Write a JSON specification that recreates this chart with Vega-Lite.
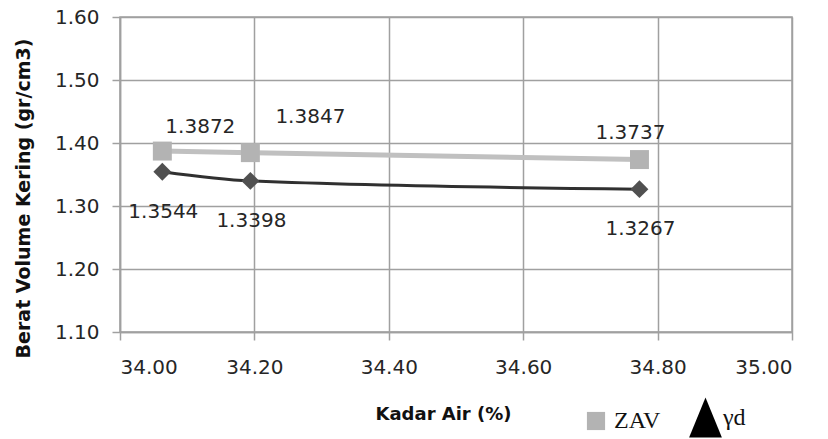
{
  "$schema": "https://vega.github.io/schema/vega-lite/v6.json",
  "autosize": "none",
  "width": 672,
  "height": 315,
  "padding": {"left": 120, "top": 17, "right": 36, "bottom": 107},
  "background": "white",
  "data": {
    "values": [
      {"kadar": 34.063, "berat": 1.3872, "seri": "ZAV", "label": "1.3872", "pos": "a"},
      {"kadar": 34.194, "berat": 1.3847, "seri": "ZAV", "label": "1.3847", "pos": "b"},
      {"kadar": 34.773, "berat": 1.3737, "seri": "ZAV", "label": "1.3737", "pos": "c"},
      {"kadar": 34.063, "berat": 1.3544, "seri": "γd", "label": "1.3544", "pos": "d"},
      {"kadar": 34.194, "berat": 1.3398, "seri": "γd", "label": "1.3398", "pos": "d"},
      {"kadar": 34.773, "berat": 1.3267, "seri": "γd", "label": "1.3267", "pos": "d"}
    ]
  },
  "config": {
    "view": {"stroke": "#a0a0a0", "strokeWidth": 1.5},
    "axis": {
      "labelFont": "DejaVu Sans",
      "labelFontSize": 20,
      "labelColor": "#262626",
      "titleFont": "DejaVu Sans",
      "titleFontSize": 19,
      "titleFontWeight": "bold",
      "titleColor": "#111111",
      "gridColor": "#a0a0a0",
      "gridWidth": 1.5,
      "gridOpacity": 1,
      "domainColor": "#a0a0a0",
      "domainWidth": 1.5,
      "tickColor": "#a0a0a0",
      "tickWidth": 1.5,
      "tickSize": 8
    },
    "legend": {
      "labelFont": "Liberation Serif",
      "labelFontSize": 24,
      "labelColor": "#111111",
      "padding": 0,
      "orient": "none"
    }
  },
  "encoding": {
    "x": {
      "field": "kadar",
      "type": "quantitative",
      "scale": {"domain": [34, 35], "nice": false, "zero": false},
      "axis": {
        "title": "Kadar Air (%)",
        "values": [34, 34.2, 34.4, 34.6, 34.8, 35],
        "format": ".2f",
        "labelPadding": 17,
        "titleX": 323,
        "titleY": 82,
        "titleFontSize": 18,
        "titleBaseline": "middle",
        "titleAnchor": null,
        "titleAlign": "center"
      }
    },
    "y": {
      "field": "berat",
      "type": "quantitative",
      "scale": {"domain": [1.1, 1.6], "nice": false, "zero": false},
      "axis": {
        "title": "Berat Volume Kering (gr/cm3)",
        "values": [1.1, 1.2, 1.3, 1.4, 1.5, 1.6],
        "format": ".2f",
        "labelPadding": 13,
        "titleX": -97,
        "titleY": 181,
        "titleAngle": -90,
        "titleBaseline": "middle",
        "titleAlign": "center",
        "titleAnchor": null
      }
    }
  },
  "layer": [
    {
      "transform": [{"filter": "datum.seri === 'ZAV'"}],
      "mark": {"type": "line", "interpolate": "monotone", "stroke": "#c0c0c0", "strokeWidth": 5},
      "encoding": {}
    },
    {
      "transform": [{"filter": "datum.seri === 'γd'"}],
      "mark": {"type": "line", "interpolate": "monotone", "stroke": "#303030", "strokeWidth": 3},
      "encoding": {}
    },
    {
      "transform": [{"filter": "datum.seri === 'ZAV'"}],
      "mark": {"type": "point", "filled": true, "opacity": 1, "fill": "#b3b3b3", "size": 360},
      "encoding": {
        "shape": {
          "field": "seri",
          "type": "nominal",
          "scale": {"domain": ["ZAV"], "range": ["square"]},
          "legend": {
            "title": null,
            "orient": "none",
            "legendX": 464,
            "legendY": 392,
            "padding": 0,
            "symbolType": "square",
            "symbolSize": 330,
            "symbolFillColor": "#c8c8c8",
            "symbolStrokeColor": "#b07a74",
            "symbolStrokeWidth": 1,
            "symbolOpacity": 1,
            "labelOffset": 6
          }
        }
      }
    },
    {
      "transform": [{"filter": "datum.seri === 'γd'"}],
      "mark": {"type": "point", "filled": true, "shape": "diamond", "size": 320},
      "encoding": {
        "fill": {"condition": {"test": "datum.seri === 'γd'", "value": "#505050"}, "value": "#000000"},
        "opacity": {
          "field": "seri",
          "type": "nominal",
          "scale": {"type": "ordinal", "domain": ["γd"], "range": [1]},
          "legend": {
            "title": null,
            "orient": "none",
            "legendX": 565,
            "legendY": 380,
            "padding": 0,
            "symbolType": "M-0.82,1L0,-1L0.82,1Z",
            "symbolSize": 1600,
            "symbolFillColor": "#000000",
            "symbolStrokeColor": "#000000",
            "symbolStrokeWidth": 1,
            "labelOffset": -3
          }
        }
      }
    },
    {
      "transform": [{"filter": "datum.pos === 'a'"}],
      "mark": {"type": "text", "font": "DejaVu Sans", "fontSize": 20, "color": "#262626", "dx": 38, "dy": -24, "baseline": "middle"},
      "encoding": {"text": {"field": "label"}}
    },
    {
      "transform": [{"filter": "datum.pos === 'b'"}],
      "mark": {"type": "text", "font": "DejaVu Sans", "fontSize": 20, "color": "#262626", "dx": 60, "dy": -36, "baseline": "middle"},
      "encoding": {"text": {"field": "label"}}
    },
    {
      "transform": [{"filter": "datum.pos === 'c'"}],
      "mark": {"type": "text", "font": "DejaVu Sans", "fontSize": 20, "color": "#262626", "dx": -9, "dy": -27, "baseline": "middle"},
      "encoding": {"text": {"field": "label"}}
    },
    {
      "transform": [{"filter": "datum.pos === 'd'"}],
      "mark": {"type": "text", "font": "DejaVu Sans", "fontSize": 20, "color": "#262626", "dx": 1, "dy": 40, "baseline": "middle"},
      "encoding": {"text": {"field": "label"}}
    }
  ]
}
